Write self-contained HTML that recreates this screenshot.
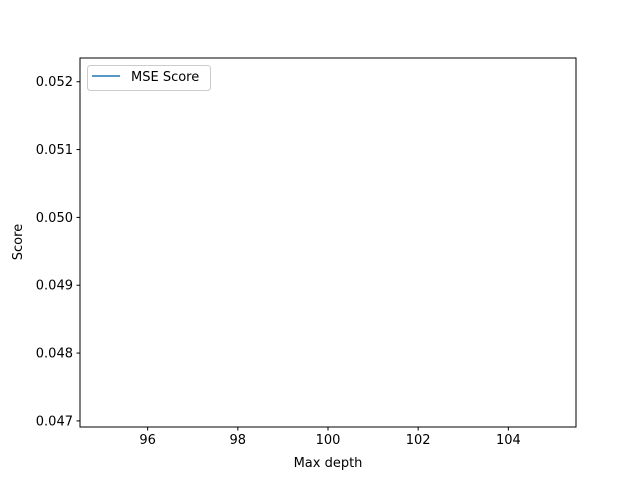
<!DOCTYPE html>
<html><head><meta charset="utf-8"><style>
body{margin:0;background:#fff}
svg{display:block;font-family:"DejaVu Sans","Liberation Sans",sans-serif}
</style></head><body>
<svg id="chart" width="640" height="480">
<rect x="0" y="0" width="640" height="480" fill="#fff"/>
<g id="plot"></g>
<rect x="80" y="58" width="496" height="369" fill="none" stroke="#000" stroke-width="1"/>
<text x="328" y="467" font-size="13" text-anchor="middle">Max depth</text>
<text x="22" y="242" font-size="13" text-anchor="middle" transform="rotate(-90 22 242)">Score</text>
<g>
<rect x="87.5" y="65.5" width="123" height="25" rx="3" fill="#fff" fill-opacity="0.8" stroke="#ccc"/>
<line x1="92" y1="76" x2="120" y2="76" stroke="#1f77b4" stroke-width="1.5"/>
<text x="131" y="81" font-size="13">MSE Score</text>
</g>
</svg>
<script>
const depths = [100];
const scores = [0.04963];
const xTicks = [96, 98, 100, 102, 104];
const yTicks = [0.047, 0.048, 0.049, 0.050, 0.051, 0.052];
const xMin = 94.5, xMax = 105.5, yMin = 0.04691, yMax = 0.05235;
const L = 80, R = 576, T = 58, B = 427;
function sx(v){return L + (v - xMin) / (xMax - xMin) * (R - L);}
function sy(v){return B - (v - yMin) / (yMax - yMin) * (B - T);}
const NS = "http://www.w3.org/2000/svg";
const g = document.getElementById("plot");
function mk(tag, attrs){const e = document.createElementNS(NS, tag); for (const k in attrs) e.setAttribute(k, attrs[k]); g.appendChild(e); return e;}
xTicks.forEach(v => {
  const x = sx(v);
  const t = mk("line", {x1:x, x2:x, y1:B, y2:B+3.5, stroke:"#000"});
  
  
  const l = mk("text", {x:x, y:B+17, "font-size":13, "text-anchor":"middle"});
  l.textContent = v;
  
  
});
yTicks.forEach(v => {
  const y = sy(v);
  const t = mk("line", {x1:L-3.5, x2:L, y1:y, y2:y, stroke:"#000"});
  
  
  const l = mk("text", {x:L-7, y:y+4.5, "font-size":13, "text-anchor":"end"});
  l.textContent = v.toFixed(3);
  
  
});
const pts = depths.map((d, i) => sx(d) + "," + sy(scores[i])).join(" ");
const line = mk("polyline", {points: pts, fill:"none", stroke:"#1f77b4", "stroke-width":1.5});


</script>
</body></html>
